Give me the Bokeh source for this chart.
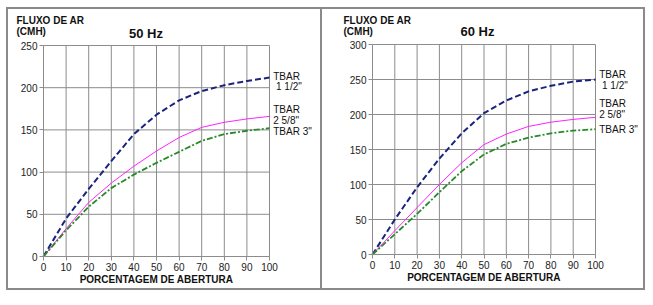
from bokeh.plotting import figure
from bokeh.layouts import row
from bokeh.models import FixedTicker
from bokeh.core.properties import value
from bokeh.embed import file_html
from bokeh.resources import INLINE

# ---- data ----
pct = [0, 10, 20, 30, 40, 50, 60, 70, 80, 90, 100]

hz50_tbar_1_12 = [0, 45, 80, 113, 145, 168, 185, 196, 203, 208, 212]
hz50_tbar_2_58 = [0, 33, 64, 87, 107, 125, 141, 153, 159, 163, 166]
hz50_tbar_3 = [0, 31, 59, 81, 97, 111, 124, 137, 145, 149, 152]

hz60_tbar_1_12 = [0, 50, 96, 137, 173, 202, 220, 233, 241, 247, 250]
hz60_tbar_2_58 = [0, 34, 67, 100, 131, 157, 172, 183, 189, 193, 196]
hz60_tbar_3 = [0, 29, 58, 89, 119, 143, 158, 167, 173, 177, 179]

series_names = [["TBAR", "\u00a01 1/2\""], ["TBAR", "2 5/8\""], ["TBAR 3\""]]
x_ticks = [0, 10, 20, 30, 40, 50, 60, 70, 80, 90, 100]
y_ticks_50 = [0, 50, 100, 150, 200, 250]
y_ticks_60 = [0, 50, 100, 150, 200, 250, 300]

FONT = "Liberation Sans"
GRID = "#8c8c8c"
NAVY = "#1a237e"
MAGENTA = "#ff22ff"
GREEN = "#2a8a2a"
TXT = "#111111"


def make_panel(title, ys, yticks, size, frame_px, title_px, head_px, label_offsets):
    """frame_px = (left, top, width, height) of the data area inside the canvas."""
    W, H = size
    fl, ft, fw, fh = frame_px
    xmax = x_ticks[-1]
    ymax = yticks[-1]
    kx = fw / float(xmax)          # px per x unit
    ky = fh / float(ymax)          # px per y unit
    x_range = (-fl / kx, (W - fl) / kx)
    y_bottom_px = ft + fh
    y_range = (-(H - y_bottom_px) / ky, ymax + ft / ky)

    p = figure(width=W, height=H, x_range=x_range, y_range=y_range,
               output_backend="svg", toolbar_location=None,
               min_border_left=0, min_border_right=0, min_border_top=0, min_border_bottom=0,
               background_fill_color="white", border_fill_color="white")
    p.outline_line_color = None
    p.grid.visible = False

    # grid lines and box (drawn through the data scales)
    p.segment(x0=x_ticks, y0=[0] * len(x_ticks), x1=x_ticks, y1=[ymax] * len(x_ticks),
              line_color=GRID, line_width=1)
    p.segment(x0=[0] * len(yticks), y0=yticks, x1=[xmax] * len(yticks), y1=yticks,
              line_color=GRID, line_width=1)

    p.xaxis.ticker = FixedTicker(ticks=x_ticks)
    p.yaxis.ticker = FixedTicker(ticks=yticks)
    p.xaxis.fixed_location = 0
    p.yaxis.fixed_location = 0
    p.xaxis.bounds = (0, xmax)
    p.yaxis.bounds = (0, ymax)
    for ax in (p.xaxis, p.yaxis):
        ax.axis_line_color = GRID
        ax.axis_line_width = 1
        ax.major_tick_line_color = GRID
        ax.major_tick_in = 0
        ax.major_tick_out = 4
        ax.minor_tick_line_color = None
        ax.major_label_text_font = FONT
        ax.major_label_text_font_size = "10px"
        ax.major_label_text_color = "#222222"
        ax.major_label_standoff = 2
    p.xaxis.axis_label = "PORCENTAGEM DE ABERTURA"
    p.xaxis.axis_label_text_font = FONT
    p.xaxis.axis_label_text_font_size = "10px"
    p.xaxis.axis_label_text_font_style = "bold"
    p.xaxis.axis_label_text_color = TXT
    p.xaxis.axis_label_standoff = 0

    a, b, c = ys
    p.line(pct, a, line_color=NAVY, line_width=2, line_dash="6 3")
    p.line(pct, b, line_color=MAGENTA, line_width=1)
    p.line(pct, c, line_color=GREEN, line_width=1.8, line_dash="6 2 2 2")

    # headings: offsets in px from the top-left corner of the data area
    p.text(x=[title_px[0] / kx], y=[ymax + title_px[1] / ky], text=[title],
           text_font=value(FONT), text_font_size="13px", text_font_style="bold",
           text_align="center", text_baseline="middle", text_color=TXT)
    p.text(x=[head_px[0] / kx] * 2,
           y=[ymax + head_px[1] / ky, ymax + head_px[2] / ky],
           text=["FLUXO DE AR", "(CMH)"],
           text_font=value(FONT), text_font_size="10px", text_font_style="bold",
           text_align="left", text_baseline="middle", text_color=TXT)

    # series labels at the end of each curve
    ends = [a[-1], b[-1], c[-1]]
    lx, ly, lt = [], [], []
    for names, end, offs in zip(series_names, ends, label_offsets):
        for txt, dy in zip(names, offs):
            lx.append(xmax + 3.7 / kx)
            ly.append(end + dy / ky)
            lt.append(txt)
    p.text(x=lx, y=ly, text=lt, text_font=value(FONT), text_font_size="10px",
           text_align="left", text_baseline="middle", text_color=TXT)
    return p


# 50 Hz panel: canvas 316x283, data area left 35, top 36, 226 x 211
p1 = make_panel("50 Hz", (hz50_tbar_1_12, hz50_tbar_2_58, hz50_tbar_3), y_ticks_50,
                (316, 283), (35, 36, 226, 211), (102.5, 12), (-27, 25, 14),
                [(1, -9), (6.5, -4), (-3,)])
# 60 Hz panel: canvas 323x283, data area left 50, top 35, 223 x 210
p2 = make_panel("60 Hz", (hz60_tbar_1_12, hz60_tbar_2_58, hz60_tbar_3), y_ticks_60,
                (323, 283), (50, 35, 223, 210), (105, 13), (-29, 24, 13),
                [(5, -6), (13.5, 2.5), (-0.5,)])

p1.styles = {"border": "2px solid #8a8a8a"}
p2.styles = {"border-top": "2px solid #8a8a8a", "border-right": "2px solid #8a8a8a",
             "border-bottom": "2px solid #8a8a8a"}
p1.margin = (7, 0, 0, 6)
p2.margin = (7, 0, 0, 0)

layout = row(p1, p2)
open("out.html", "w").write(file_html(layout, INLINE))
